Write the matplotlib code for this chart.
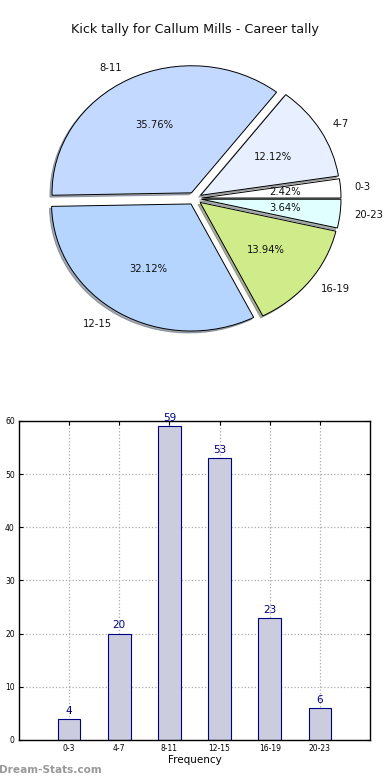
import matplotlib
matplotlib.use("Agg")
import matplotlib.pyplot as plt
import numpy as np

# kick tally per category
categories = ['0-3', '4-7', '8-11', '12-15', '16-19', '20-23']
counts = [4, 20, 59, 53, 23, 6]
pie_colors = ['#ffffff', '#e8f0ff', '#c4d9ff', '#b5d5ff', '#d0eb8a', '#e0ffff']
title = 'Kick tally for Callum Mills - Career tally'

fig = plt.figure(figsize=(3.9, 7.8), dpi=100)
fig.patch.set_facecolor('white')

fig.text(0.5, 1 - 30 / 780, title, ha='center', va='center', fontsize=9.2, color='#111111')

# pie on top
ax_pie = fig.add_axes([0.070, 0.550, 0.858, 0.391])
wedges, texts, autotexts = ax_pie.pie(
    counts, labels=categories, colors=pie_colors, explode=[0.05] * len(counts),
    autopct='%1.2f%%', shadow={'ox': -0.011, 'oy': -0.011, 'shade': 0.6},
    startangle=0, counterclock=True,
    labeldistance=1.1, pctdistance=0.6,
    wedgeprops={'edgecolor': 'black', 'linewidth': 0.7},
    textprops={'fontsize': 7.2, 'color': '#111111'})
ax_pie.set_aspect('auto')
ax_pie.set_xlim(-1.2, 1.2)
ax_pie.set_ylim(-1.2, 1.2)
ax_pie.axis('off')

# bar chart below
ax = fig.add_axes([0.0487, 0.0513, 0.9, 0.409])
x = np.arange(len(categories))
ax.bar(x, counts, width=0.45, color='#ccccdf', edgecolor='#000080', linewidth=0.8, zorder=2)
for xi, c in zip(x, counts):
    ax.text(xi, c + 0.6, str(c), ha='center', va='bottom', fontsize=7.5, color='#000080', zorder=3)

ax.set_xlim(-1, 6)
ax.set_ylim(0, 60)
ax.set_xticks(x)
ax.set_xticklabels(categories)
ax.set_yticks(np.arange(0, 61, 10))
ax.tick_params(axis='both', labelsize=5.5, direction='in', length=3, top=True, right=True, pad=3)
ax.grid(True, linestyle=':', color='#aaaaaa', linewidth=0.9, zorder=0)
ax.set_xlabel('Frequency', fontsize=7.5, labelpad=1)
for s in ax.spines.values():
    s.set_linewidth(1.0)
    s.set_color('black')

fig.text(-0.003, 1 - 770 / 780, 'Dream-Stats.com', ha='left', va='center',
         fontsize=7.6, color='#999999', fontweight='bold')

fig.savefig('out.png', dpi=100, facecolor='white')
